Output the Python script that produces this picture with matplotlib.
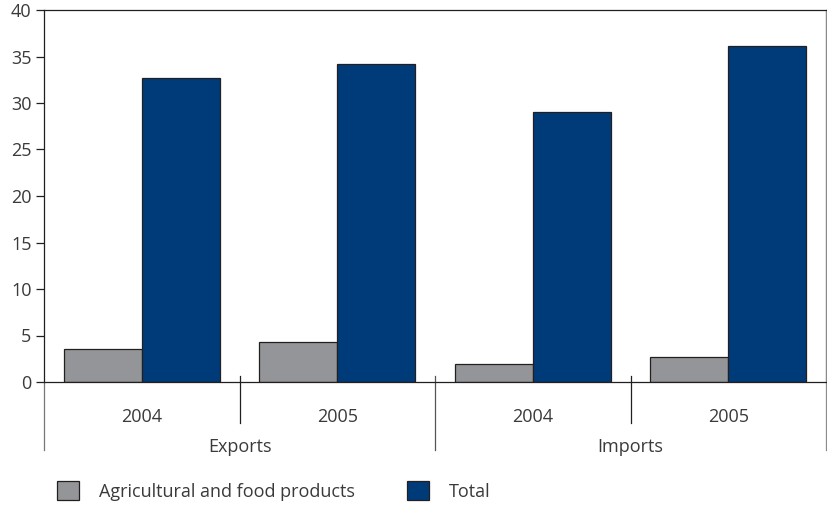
import matplotlib.pyplot as plt
from matplotlib.patches import Patch
import numpy as np

plt.rcParams['font.family'] = ['Open Sans', 'DejaVu Sans']

groups = ["Exports", "Imports"]
years = ["2004", "2005", "2004", "2005"]
agri = [3.5, 4.3, 1.9, 2.7]
total = [32.7, 34.2, 29.0, 36.1]

grey = "#939598"
blue = "#003b79"
edge = "#231f20"
txt = "#3a3a3a"
fs = 13

fig = plt.figure(figsize=(8.27, 5.05), dpi=100)
ax = fig.add_axes([44 / 827, 1 - 382 / 505, 782 / 827, 372 / 505])

x = np.arange(len(years))
w = 0.4
ax.bar(x - w / 2, agri, w, color=grey, edgecolor=edge, linewidth=0.9)
ax.bar(x + w / 2, total, w, color=blue, edgecolor=edge, linewidth=0.9)

ax.set_xlim(-0.5, 3.5)
ax.set_ylim(0, 40)
ax.set_yticks(range(0, 41, 5))
ax.set_xticks([])
ax.tick_params(axis="y", length=6, width=0.9, color=edge, labelsize=fs,
               labelcolor=txt, pad=3)

for s in ["left", "top", "bottom"]:
    ax.spines[s].set_color(edge)
    ax.spines[s].set_linewidth(0.9)
ax.spines["right"].set_color("#8a8a8a")
ax.spines["right"].set_linewidth(0.9)

# category separators below the axis
trans = ax.get_xaxis_transform()
for xs in [0.5, 2.5]:
    ax.plot([xs, xs], [0.016, -0.110], color=edge, lw=0.9, transform=trans, clip_on=False)
ax.plot([1.5, 1.5], [0.016, -0.183], color="#555555", lw=0.9, transform=trans, clip_on=False)
ax.plot([-0.5, -0.5], [0, -0.183], color="#777777", lw=0.9, transform=trans, clip_on=False)
ax.plot([3.5, 3.5], [1, -0.183], color="#8a8a8a", lw=0.9, transform=trans, clip_on=False)

for xi, yr in zip(x, years):
    ax.text(xi, -0.094, yr, transform=trans, ha="center", va="center",
            fontsize=fs, color=txt)
for gi, g in enumerate(groups):
    ax.text(0.5 + 2 * gi, -0.175, g, transform=trans, ha="center", va="center",
            fontsize=fs, color=txt)

handles = [Patch(facecolor=grey, edgecolor=edge, linewidth=0.9,
                 label="Agricultural and food products"),
           Patch(facecolor=blue, edgecolor=edge, linewidth=0.9, label="Total")]
fig.legend(handles=handles, loc="center left", bbox_to_anchor=(57 / 827, 1 - 491 / 505),
           ncol=2, frameon=False, fontsize=fs, labelcolor=txt, borderpad=0,
           borderaxespad=0, handlelength=1.22, handleheight=1.22,
           handletextpad=1.1, columnspacing=2.9)

fig.savefig("out.png", dpi=100)
